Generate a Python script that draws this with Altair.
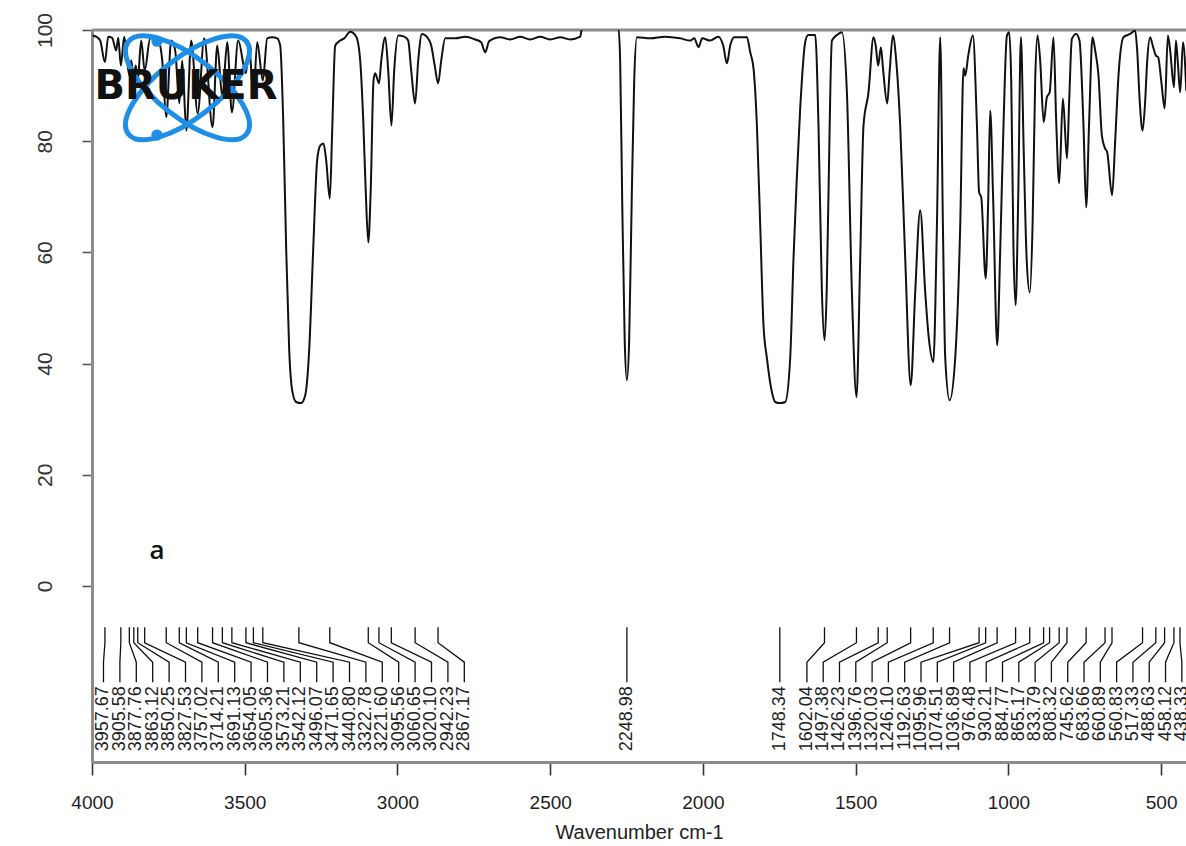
import altair as alt
import pandas as pd

# ---------------- spectrum (wavenumber cm-1, transmittance %) ----------------
seg_4000_3400 = [
    (3998, 99.0), (3983, 98.7), (3973, 98.1), (3957.7, 94.2), (3947, 98.8), (3934, 98.6),
    (3921, 96.3), (3914, 98.6), (3905.6, 93.6), (3894.6, 98.8), (3877.8, 91.8), (3871.7, 94.5),
    (3863.1, 91.3), (3857, 93.6), (3850.3, 90.9), (3839, 98.1), (3827.5, 92.7), (3809.5, 98.5),
    (3783, 98.1), (3770, 94.5), (3757, 84.3), (3740.7, 98.1), (3727.6, 96.3), (3714.2, 86.8),
    (3704.7, 94.5), (3691.1, 81.9), (3675.3, 98.1), (3654, 85.0), (3632.7, 98.5), (3605.4, 82.5),
    (3590, 97.2), (3573.2, 87.9), (3557.4, 97.8), (3542, 85.2), (3521.4, 98.1), (3496.2, 92.2),
    (3485.4, 97.2), (3471.6, 87.7), (3459.2, 97.8), (3440.8, 90.9), (3426.4, 98.5), (3410, 98.7),
]
seg_3400_2800 = [
    (3393.7, 98.5), (3383.9, 97.2), (3374, 83.7), (3364.2, 60.4), (3354.4, 42.4), (3344.7, 35.2),
    (3331.6, 33.1), (3315.1, 32.9), (3302, 34.3), (3289, 42.4), (3276, 60.4), (3263, 76.5),
    (3253, 79.2), (3242.2, 79.6), (3233.3, 76.5), (3221.5, 69.7), (3213.7, 81.9), (3203.8, 97.2),
    (3187.5, 98.1), (3174.4, 98.5), (3154.7, 99.7), (3135, 98.8), (3122, 94.5), (3112, 83.7),
    (3104, 71.2), (3095.5, 61.8), (3087.6, 71.2), (3078.4, 90.9), (3072.9, 92.2), (3060.4, 90.4),
    (3053, 94.5), (3040, 98.7), (3030.3, 92.7), (3019.8, 82.8), (3010.7, 92.7), (2997.6, 99.0),
    (2978, 98.8), (2964.9, 98.1), (2955, 92.7), (2942.3, 86.8), (2932.1, 94.5), (2920, 99.3),
    (2902.6, 98.7), (2889.5, 97.2), (2878, 93.6), (2867, 90.4), (2856.8, 94.5), (2843.7, 98.5),
]
seg_2800_1860 = [
    (2811, 98.5), (2778, 98.8), (2745.5, 98.3), (2726, 97.8), (2712.8, 96.0), (2699.7, 98.0),
    (2663.6, 98.7), (2631, 98.3), (2598, 98.8), (2565.5, 98.3), (2532.7, 98.8), (2500, 98.3),
    (2467, 98.7), (2434.5, 98.3), (2401.7, 98.8), (2396.2, 100.2), (2276.4, 100.2), (2271, 94.5),
    (2264.3, 69.4), (2256.1, 44.2), (2249, 37.0), (2241.5, 44.2), (2233.2, 69.4), (2225, 90.9),
    (2216.2, 98.7), (2172.6, 98.5), (2123.5, 98.8), (2074.4, 98.5), (2041.7, 98.1), (2028.5, 98.5),
    (2014.5, 96.9), (2002.4, 98.5), (1976, 98.1), (1950, 98.8), (1933.6, 97.2), (1921.5, 94.0),
    (1910.7, 97.2), (1897.6, 98.7), (1856, 98.7),
]
seg_1860_1000 = [
    (1845.2, 96.0), (1834.4, 93.1), (1823.3, 82.8), (1812.5, 64.9), (1801.7, 46.9), (1790.6, 41.0),
    (1774.2, 34.9), (1763.4, 33.1), (1748, 32.9), (1730.6, 33.1), (1714.3, 41.0), (1703.5, 58.9),
    (1693, 73.0), (1681.6, 85.9), (1665.2, 97.8), (1655.4, 99.1), (1632.4, 99.1), (1621.7, 82.8),
    (1610.5, 52.8), (1602, 44.2), (1594.8, 53.2), (1588.9, 70.8), (1577.8, 98.1), (1561.4, 99.1),
    (1545, 99.6), (1528.7, 88.8), (1512.3, 52.8), (1497.3, 34.0), (1485.1, 58.9), (1474.4, 82.8),
    (1458, 88.8), (1441.6, 98.7), (1434.4, 97.2), (1426.3, 93.6), (1417.4, 96.9), (1409.9, 92.7),
    (1396.8, 86.8), (1388.6, 92.7), (1378.1, 99.0), (1367.3, 94.5), (1354.2, 82.8), (1337.8, 58.9),
    (1319.8, 36.1), (1305.1, 52.8), (1288.7, 67.6), (1272.3, 52.8), (1261.5, 45.1), (1245.8, 40.3),
    (1234, 64.9), (1223.2, 98.7), (1214.4, 64.9), (1206.8, 41.0), (1192.4, 33.4), (1174.1, 41.0),
    (1157.7, 64.9), (1146.9, 93.1), (1141.3, 91.8), (1131.5, 95.4), (1116.2, 99.0), (1103, 82.8),
    (1095.9, 70.8), (1088.9, 69.9), (1074.3, 55.3), (1066.1, 69.4), (1059.6, 85.5), (1049.8, 69.4),
    (1036.7, 43.3), (1026.8, 60.4), (1016.1, 82.8), (1004.9, 99.0),
]
seg_1000_400 = [
    (997.3, 99.6), (990.8, 90.9), (983.3, 60.4), (976.4, 50.5), (968, 69.4), (959.1, 98.7),
    (949.9, 78.3), (940.1, 58.6), (930, 52.8), (920.5, 65.8), (912.3, 90.9), (904.8, 99.0),
    (896, 94.5), (884.5, 83.4), (874, 87.9), (864.9, 88.8), (852.4, 98.7), (843.6, 83.7),
    (833.8, 72.4), (821.6, 87.7), (808.2, 76.9), (801, 87.3), (792.2, 98.4), (778.1, 99.3),
    (767.3, 98.1), (754.2, 82.8), (745.4, 68.1), (735.6, 83.7), (724.7, 98.7), (715.9, 96.3),
    (705.1, 91.8), (694, 81.0), (683.5, 78.7), (676.6, 78.0), (660.5, 70.3), (650.4, 80.1),
    (639.6, 91.8), (623.3, 98.7), (601.3, 99.3), (584.9, 99.9), (578.4, 96.3), (570.2, 87.3),
    (560.7, 81.9), (552.2, 87.3), (545.6, 94.5), (535.8, 98.7), (527.6, 97.2), (517.1, 95.4),
    (509.6, 95.1), (499.8, 90.9), (488.3, 85.9), (477.9, 99.0), (470.4, 96.3), (457.9, 89.7),
    (451.7, 98.1), (445.8, 94.5), (437.6, 88.8), (428.4, 97.8), (417.6, 89.1),
]

# ---------------- peak labels ----------------
peaks_left = [3957.67, 3905.58, 3877.76, 3863.12, 3850.25, 3827.53, 3757.02, 3714.21, 3691.13,
              3654.05, 3605.36, 3573.21, 3542.12, 3496.07, 3471.65, 3440.80, 3322.78, 3221.60,
              3095.56, 3060.65, 3020.10, 2942.23, 2867.17]
label_pos_left = [3962.4, 3908.7, 3855.0, 3801.3, 3747.6, 3693.9, 3640.3, 3586.6, 3532.9, 3479.2,
                  3425.5, 3371.8, 3318.1, 3264.4, 3210.7, 3157.0, 3103.4, 3049.7, 2996.0, 2942.3,
                  2888.6, 2834.9, 2781.2]
peaks_mid = [2248.98, 1748.34]
label_pos_mid = [2248.98, 1748.34]
peaks_right = [1602.04, 1497.38, 1426.23, 1396.76, 1320.03, 1246.10, 1192.63, 1095.96, 1074.51,
               1036.89, 976.48, 930.21, 884.77, 865.17, 833.79, 808.32, 745.62, 683.66, 660.89,
               560.83, 517.33, 488.63, 458.12, 438.33]
label_pos_right = [1659.6, 1606.3, 1553.0, 1499.6, 1446.2, 1392.9, 1339.5, 1286.1, 1232.7, 1179.4,
                   1126.0, 1072.6, 1019.3, 965.9, 912.5, 859.2, 805.8, 752.4, 699.1, 645.7,
                   592.3, 539.0, 485.6, 432.2]

x_ticks = [4000, 3500, 3000, 2500, 2000, 1500, 1000, 500]
y_ticks = [0, 20, 40, 60, 80, 100]
X_LOW, X_HIGH = 418.6, 4000
Y_LOW, Y_HIGH = -31.65, 100

# ---------------- frames ----------------
spectrum = seg_4000_3400 + seg_3400_2800 + seg_2800_1860 + seg_1860_1000 + seg_1000_400
spec_df = pd.DataFrame(spectrum, columns=["wn", "t"])
spec_df["k"] = range(len(spec_df))

peaks = peaks_left + peaks_mid + peaks_right
label_pos = label_pos_left + label_pos_mid + label_pos_right
LEVELS = [-7.4, -10.2, -13.7, -17.3]
conn_rows = []
for i, (p, lp) in enumerate(zip(peaks, label_pos)):
    for k, w in enumerate([p, p, lp, lp]):
        conn_rows.append({"id": i, "k": k, "wn": w, "t": LEVELS[k]})
conn_df = pd.DataFrame(conn_rows)
lab_df = pd.DataFrame({"wn": label_pos, "t": [-18.0] * len(peaks),
                       "txt": [f"{p:.2f}" for p in peaks]})

FONT = "Liberation Sans"
xs = alt.Scale(domain=[X_LOW, X_HIGH], reverse=True, nice=False, zero=False)
ys = alt.Scale(domain=[Y_LOW, Y_HIGH], nice=False, zero=False)
xax = alt.Axis(values=x_ticks, title="Wavenumber cm-1", grid=False, tickSize=13, tickWidth=1.6,
               tickColor="#333333", domainColor="#8c8c8c", domainWidth=3,
               labelFont=FONT, labelFontSize=19, labelColor="#222222",
               labelBaseline="middle", labelPadding=27, labelFlush=False, labelOverlap=False,
               format="d",
               titleFont=FONT, titleFontSize=20, titleFontWeight="normal",
               titleColor="#222222", titleBaseline="alphabetic", titleY=76)
yax = alt.Axis(values=y_ticks, title=None, grid=False, tickSize=10, tickWidth=1.6,
               tickColor="#555555", domainColor="#8c8c8c", domainWidth=3,
               labelFont=FONT, labelFontSize=21, labelColor="#333333",
               labelAngle=270, labelAlign="center", labelBaseline="middle",
               labelPadding=37, labelFlush=False, labelOverlap=False)
X = alt.X("wn:Q", scale=xs, axis=xax)
Y = alt.Y("t:Q", scale=ys, axis=yax)

top_rule = alt.Chart(pd.DataFrame({"t": [Y_HIGH]})).mark_rule(
    color="#8c8c8c", strokeWidth=3).encode(y=Y)

line = alt.Chart(spec_df).mark_line(color="#111111", strokeWidth=2, clip=True,
                                    interpolate="monotone").encode(x=X, y=Y, order="k:Q")

conn = alt.Chart(conn_df).mark_line(color="#111111", strokeWidth=1.3, clip=True).encode(
    x=X, y=Y, detail="id:N", order="k:Q")

labels = alt.Chart(lab_df).mark_text(angle=270, align="right", baseline="middle",
                                     font=FONT, fontSize=18, color="#222222").encode(
    x=X, y=Y, text="txt:N")

a_df = pd.DataFrame({"wn": [3787.2], "t": [6.3], "txt": ["a"]})
a_txt = alt.Chart(a_df).mark_text(font="Open Sans", fontSize=26, fontWeight=600, color="#111111",
                                  align="center", baseline="middle").encode(x=X, y=Y, text="txt:N")

# ---------------- logo ----------------
ELLIPSE = ("M 1 0 C 1 0.2209 0.5523 0.4 0 0.4 C -0.5523 0.4 -1 0.2209 -1 0 "
           "C -1 -0.2209 -0.5523 -0.4 0 -0.4 C 0.5523 -0.4 1 -0.2209 1 0 Z")
logo_center = pd.DataFrame({"wn": [3687.4], "t": [89.6]})
orbit1 = alt.Chart(logo_center).mark_point(shape=ELLIPSE, size=22500, angle=38, filled=False,
                                           color="#1e8fe6", strokeWidth=5, opacity=1).encode(x=X, y=Y)
orbit2 = alt.Chart(logo_center).mark_point(shape=ELLIPSE, size=22500, angle=142, filled=False,
                                           color="#1e8fe6", strokeWidth=5, opacity=1).encode(x=X, y=Y)
dots_df = pd.DataFrame({"wn": [3787.2, 3787.2], "t": [98.0, 81.1]})
dots = alt.Chart(dots_df).mark_point(shape="circle", size=130, filled=True, color="#1e8fe6",
                                     opacity=1).encode(x=X, y=Y)
brand_df = pd.DataFrame({"wn": [3692.3], "t": [89.7], "txt": ["BRUKER"]})
brand = alt.Chart(brand_df).mark_text(font="DejaVu Sans", fontWeight="bold", fontSize=40,
                                      color="#111111", align="center", baseline="middle").encode(
    x=X, y=Y, text="txt:N")

chart = alt.layer(top_rule, line, conn, labels, a_txt, orbit1, orbit2, dots, brand).properties(
    width=1094, height=732,
    autosize=alt.AutoSizeParams(type="none"),
    padding={"left": 92, "top": 30, "right": 0, "bottom": 84},
    background="white",
).configure_view(stroke=None)

chart.save("out.html", embed_options={"renderer": "svg", "actions": False})
